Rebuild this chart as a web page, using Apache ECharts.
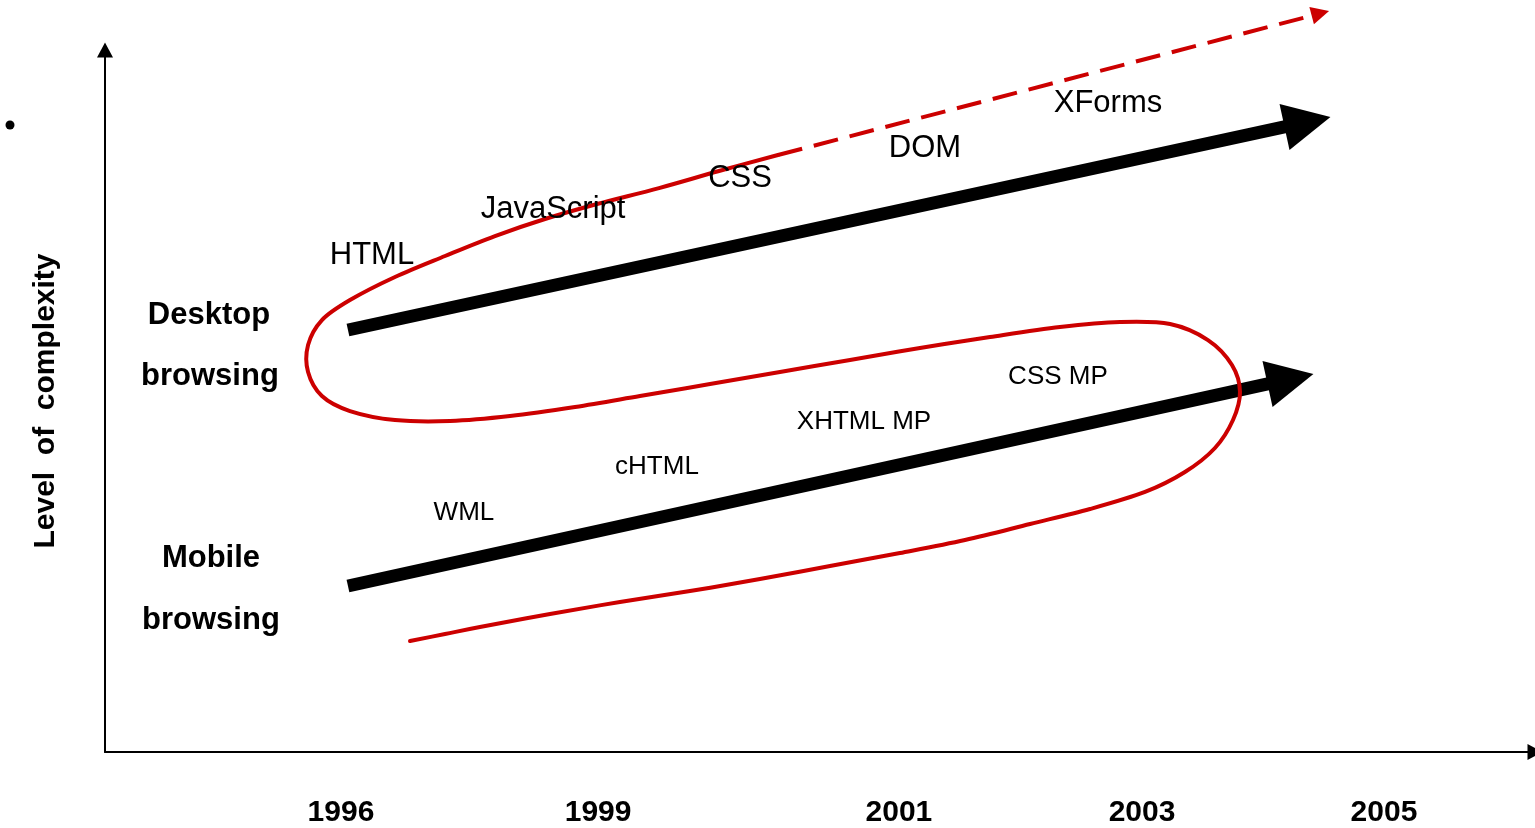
<!DOCTYPE html>
<html>
<head>
<meta charset="utf-8">
<script src="https://cdn.jsdelivr.net/npm/echarts@6/dist/echarts.min.js"></script>
<style>
html,body{margin:0;padding:0;background:#fff;}
#chart{width:1535px;height:828px;}
</style>
</head>
<body>
<div id="chart"></div>
<script>
// ---- Axis / tick labels ----
const yearLabels = ['1996', '1999', '2001', '2003', '2005'];
const yearPositions = [16.5, 34.48, 55.52, 72.52, 89.44];
const yAxisTitle = 'Level  of  complexity';

// ---- Row labels (bold) ----
const rowLabels = ['Desktop', 'browsing', 'Mobile', 'browsing'];
const rowLabelX = [7.27, 7.34, 7.41, 7.41];
const rowLabelY = [61.81, 53.18, 27.44, 18.67];

// ---- Desktop technologies ----
const desktopTech = ['HTML', 'JavaScript', 'CSS', 'DOM', 'XForms'];
const desktopTechX = [18.67, 31.33, 44.41, 57.34, 70.14];
const desktopTechY = [70.30, 76.80, 81.19, 85.43, 91.80];

// ---- Mobile technologies ----
const mobileTech = ['WML', 'cHTML', 'XHTML MP', 'CSS MP'];
const mobileTechX = [25.10, 38.60, 53.08, 66.64];
const mobileTechY = [33.80, 40.31, 46.68, 53.04];

// ---- Trend arrows (start, end) ----
const desktopArrow = [[16.99, 59.69], [84.09, 89.12]];
const mobileArrow = [[16.99, 23.48], [82.90, 52.77]];
const futureArrow = [[47.06, 84.44], [84.99, 104.48]];

// ---- Red convergence curve (x, y) ----
const curveX = [47.06, 42.94, 38.74, 34.41, 30.77, 27.27, 23.78, 20.28, 17.13, 15.17,
  14.20, 14.20, 15.17, 17.13, 20.28, 24.13, 28.32, 32.87, 37.41, 42.31,
  47.20, 52.10, 56.99, 61.89, 66.78, 70.98, 74.48, 77.13, 78.81, 79.37,
  78.88, 77.62, 75.52, 72.73, 68.88, 64.69, 60.14, 55.59, 50.70, 45.80,
  40.91, 36.01, 31.12, 26.22, 23.78, 21.33];
const curveY = [84.44, 82.18, 79.77, 77.51, 75.39, 72.98, 70.16, 67.19, 63.93, 61.10,
  57.57, 53.75, 50.35, 48.23, 46.96, 46.82, 47.52, 48.80, 50.35, 52.05,
  53.75, 55.45, 57.14, 58.70, 60.11, 60.82, 60.54, 58.27, 54.74, 50.92,
  46.96, 43.00, 39.60, 36.78, 34.37, 32.25, 29.99, 28.15, 26.31, 24.47,
  22.77, 21.22, 19.52, 17.68, 16.69, 15.70];

const FONT = '"Liberation Sans", Arial, Helvetica, sans-serif';
const RED = '#cc0000';

function zipPoints(xs, ys, names) {
  return xs.map((x, i) => names ? { name: names[i], value: [x, ys[i]] } : [x, ys[i]]);
}

function textSeries(names, xs, ys, size, weight) {
  return {
    type: 'scatter',
    symbolSize: 0,
    silent: true,
    clip: false,
    itemStyle: { opacity: 1 },
    data: zipPoints(xs, ys, names),
    label: {
      show: true,
      position: 'inside',
      formatter: p => p.name,
      color: '#000',
      opacity: 1,
      fontFamily: FONT,
      fontSize: size,
      fontWeight: weight
    },
    z: 5
  };
}

// Smooth freehand curve through the points (Catmull-Rom -> cubic Bezier), mapped by the axes
function renderCurve(params, api) {
  const pts = curveX.map((x, i) => api.coord([x, curveY[i]]));
  let d = 'M' + pts[0][0] + ' ' + pts[0][1];
  for (let i = 0; i < pts.length - 1; i++) {
    const p0 = pts[i - 1] || pts[i];
    const p1 = pts[i];
    const p2 = pts[i + 1];
    const p3 = pts[i + 2] || p2;
    const c1x = p1[0] + (p2[0] - p0[0]) / 6;
    const c1y = p1[1] + (p2[1] - p0[1]) / 6;
    const c2x = p2[0] - (p3[0] - p1[0]) / 6;
    const c2y = p2[1] - (p3[1] - p1[1]) / 6;
    d += ' C' + c1x + ' ' + c1y + ' ' + c2x + ' ' + c2y + ' ' + p2[0] + ' ' + p2[1];
  }
  return {
    type: 'path',
    shape: { pathData: d },
    style: { fill: 'none', stroke: RED, lineWidth: 4, lineCap: 'round', lineJoin: 'round' },
    silent: true
  };
}

const chart = echarts.init(document.getElementById('chart'), null, { renderer: 'canvas' });
chart.setOption({
  backgroundColor: '#ffffff',
  animation: false,
  grid: { left: 105, right: 0, top: 50, bottom: 76, containLabel: false },
  xAxis: {
    type: 'value',
    min: 0,
    max: 100,
    splitLine: { show: false },
    axisTick: { show: false },
    axisLine: {
      show: true,
      symbol: ['none', 'triangle'],
      symbolSize: [16, 15],
      lineStyle: { color: '#000', width: 2 }
    },
    axisLabel: {
      customValues: yearPositions,
      formatter: v => {
        const i = yearPositions.indexOf(v);
        return i >= 0 ? yearLabels[i] : '';
      },
      margin: 46,
      color: '#000',
      fontFamily: FONT,
      fontSize: 30,
      fontWeight: 'bold'
    }
  },
  yAxis: {
    type: 'value',
    min: 0,
    max: 99.3,
    splitLine: { show: false },
    axisTick: { show: false },
    axisLabel: { show: false },
    axisLine: {
      show: true,
      onZero: false,
      symbol: ['none', 'triangle'],
      symbolSize: [16, 15],
      lineStyle: { color: '#000', width: 2 }
    },
    name: yAxisTitle,
    nameLocation: 'middle',
    nameRotate: 90,
    nameGap: 44,
    nameTextStyle: {
      color: '#000',
      fontFamily: FONT,
      fontSize: 30,
      fontWeight: 'bold'
    }
  },
  graphic: [{
    type: 'circle',
    shape: { cx: 10, cy: 125, r: 4.5 },
    style: { fill: '#000' },
    silent: true
  }],
  series: [
    {
      type: 'custom',
      coordinateSystem: 'cartesian2d',
      data: [[curveX[0], curveY[0]]],
      clip: false,
      silent: true,
      renderItem: renderCurve,
      z: 3
    },
    {
      type: 'lines',
      coordinateSystem: 'cartesian2d',
      silent: true,
      clip: false,
      symbol: ['none', 'triangle'],
      symbolSize: [46, 47],
      lineStyle: { color: '#000', width: 13, opacity: 1 },
      data: [{ coords: desktopArrow }, { coords: mobileArrow }],
      z: 2
    },
    {
      type: 'lines',
      coordinateSystem: 'cartesian2d',
      silent: true,
      clip: false,
      symbol: ['none', 'triangle'],
      symbolSize: [14, 18],
      lineStyle: { color: RED, width: 4, type: [25, 12], opacity: 1 },
      data: [{ coords: futureArrow }],
      z: 3
    },
    textSeries(desktopTech, desktopTechX, desktopTechY, 31, 'normal'),
    textSeries(mobileTech, mobileTechX, mobileTechY, 26, 'normal'),
    textSeries(rowLabels, rowLabelX, rowLabelY, 31, 'bold')
  ]
});
</script>
</body>
</html>
